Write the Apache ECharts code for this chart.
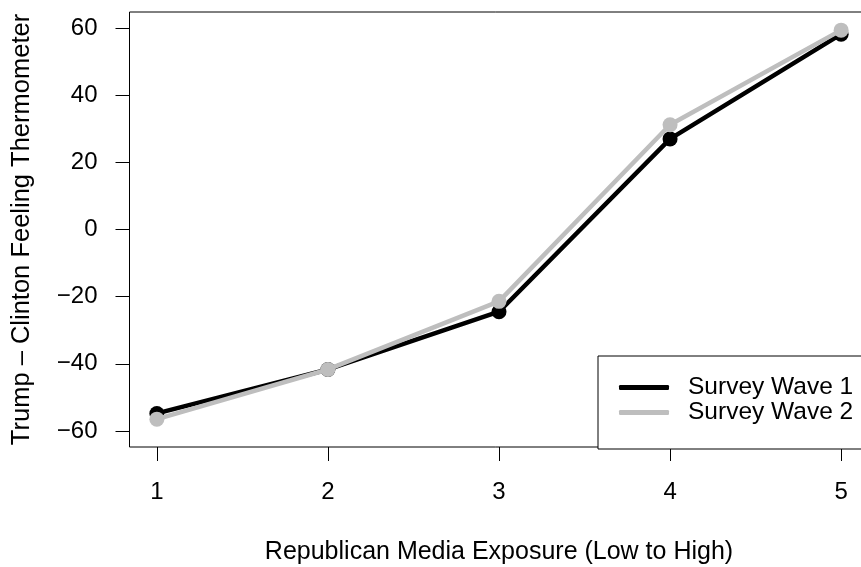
<!DOCTYPE html>
<html>
<head>
<meta charset="utf-8">
<script src="https://cdn.jsdelivr.net/npm/echarts@6/dist/echarts.min.js"></script>
<style>
  html, body { margin: 0; padding: 0; background: #fff; }
  #chart { width: 861px; height: 567px; }
</style>
</head>
<body>
<div id="chart"></div>
<script>
// exposure levels and the two waves
const exposure = [1, 2, 3, 4, 5];
const wave1 = [-54.8, -41.7, -24.5, 27.0, 58.2];
const wave2 = [-56.5, -41.7, -21.4, 31.2, 59.4];
const yTicks = [-60, -40, -20, 0, 20, 40, 60];
const seriesNames = ['Survey Wave 1', 'Survey Wave 2'];

const font = 'Liberation Sans, Arial, Helvetica, sans-serif';

const myChart = echarts.init(document.getElementById('chart'));

const pairs = vals => exposure.map((x, i) => [x, vals[i]]);

const option = {
    animation: false,
    backgroundColor: '#fff',
    textStyle: { fontFamily: font, color: '#000' },
    grid: {
        left: 129.5,
        right: -7.5,
        top: 12,
        bottom: 120,
        outerBoundsMode: 'none',
        containLabel: false,
        show: true,
        borderColor: '#000',
        borderWidth: 1,
        backgroundColor: 'transparent'
    },
    xAxis: {
        type: 'value',
        min: 0.84,
        max: 5.16,
        name: 'Republican Media Exposure (Low to High)',
        nameLocation: 'middle',
        nameGap: 93,
        nameTextStyle: { fontSize: 25, color: '#000', fontFamily: font },
        axisLine: { show: false, onZero: false },
        splitLine: { show: false },
        axisTick: {
            show: true,
            customValues: exposure,
            length: 14,
            lineStyle: { color: '#000', width: 1 }
        },
        axisLabel: {
            customValues: exposure,
            margin: 33,
            fontSize: 24,
            color: '#000',
            fontFamily: font
        }
    },
    yAxis: {
        type: 'value',
        min: -64.8,
        max: 64.8,
        name: 'Trump \u2013 Clinton Feeling Thermometer',
        nameLocation: 'middle',
        nameGap: 95,
        nameTextStyle: { fontSize: 25.5, color: '#000', fontFamily: font },
        axisLine: { show: false, onZero: false },
        splitLine: { show: false },
        axisTick: {
            show: true,
            customValues: yTicks,
            length: 14,
            lineStyle: { color: '#000', width: 1 }
        },
        axisLabel: {
            customValues: yTicks,
            margin: 32,
            fontSize: 24,
            color: '#000',
            fontFamily: font,
            formatter: v => (v < 0 ? '\u2212' + Math.abs(v) : String(v))
        }
    },
    legend: {
        data: seriesNames,
        orient: 'vertical',
        left: 598,
        top: 356,
        icon: 'roundRect',
        itemWidth: 50,
        itemHeight: 5,
        itemGap: 0,
        padding: [19, 40, 24, 21],
        backgroundColor: '#fff',
        borderColor: '#000',
        borderWidth: 1,
        borderRadius: 0,
        textStyle: {
            fontSize: 24.5,
            lineHeight: 24,
            color: '#000',
            fontFamily: font,
            padding: [0, 0, 0, 14]
        }
    },
    series: [
        {
            name: seriesNames[0],
            type: 'line',
            data: pairs(wave1),
            symbol: 'circle',
            symbolSize: 15,
            itemStyle: { color: '#000' },
            lineStyle: { color: '#000', width: 4.5 },
            z: 2
        },
        {
            name: seriesNames[1],
            type: 'line',
            data: pairs(wave2),
            symbol: 'circle',
            symbolSize: 15,
            itemStyle: { color: '#bebebe' },
            lineStyle: { color: '#bebebe', width: 4.5 },
            z: 3
        }
    ]
};

myChart.setOption(option);
</script>
</body>
</html>
